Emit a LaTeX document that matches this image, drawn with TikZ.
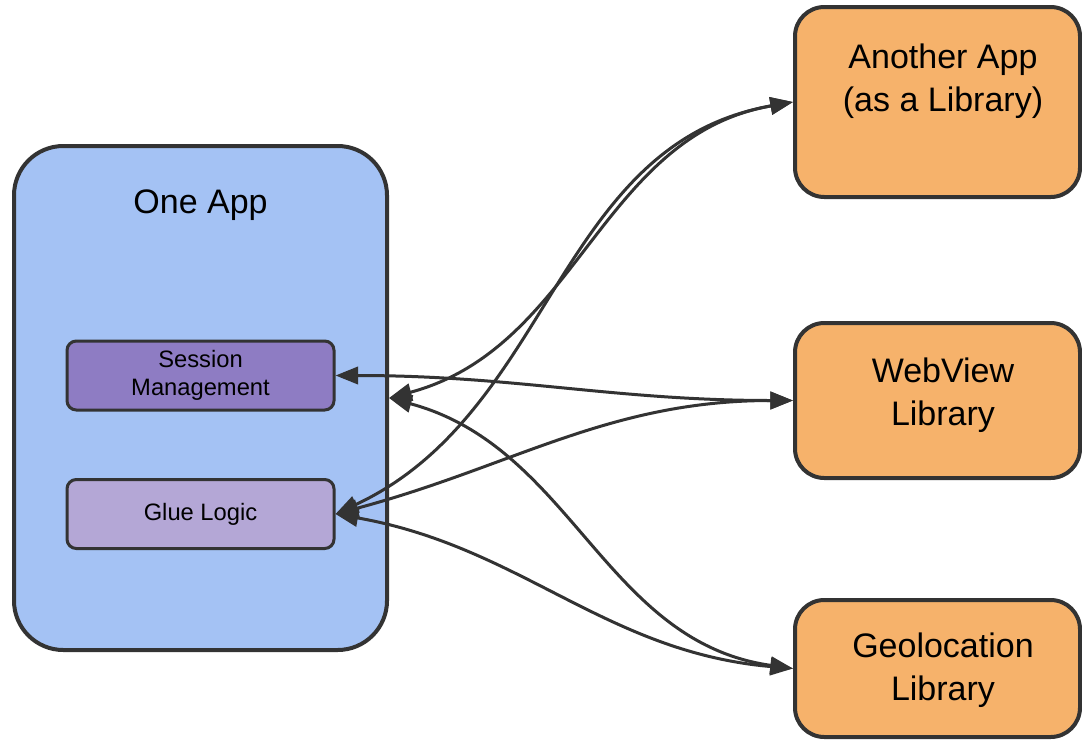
\documentclass[tikz,border=0pt]{standalone}
\usepackage{fontspec}
\setmainfont{Liberation Sans}
\usetikzlibrary{arrows.meta, positioning}
\definecolor{appblue}{HTML}{A4C2F4}
\definecolor{sessionpurple}{HTML}{8E7CC3}
\definecolor{gluepurple}{HTML}{B4A7D6}
\definecolor{liborange}{HTML}{F6B26B}
\definecolor{edgegray}{HTML}{333333}
\tikzstyle{appbox} = [
    rectangle,
    rounded corners=37pt,
    minimum width=279.75pt,
    minimum height=378pt,
    draw=edgegray,
    line width=3pt,
    fill=appblue
]
\tikzstyle{partbox} = [
    rectangle,
    rounded corners=7pt,
    minimum width=200.25pt,
    minimum height=51.75pt,
    text centered,
    align=center,
    draw=edgegray,
    line width=2.25pt,
    font=\fontsize{17.8}{21}\selectfont
]
\tikzstyle{libbox} = [
    rectangle,
    rounded corners=22pt,
    minimum width=213.75pt,
    draw=edgegray,
    line width=3pt,
    fill=liborange
]
\tikzstyle{bigtext} = [align=center, font=\fontsize{25.5}{32}\selectfont]
\tikzstyle{arrow} = [line width=2.25pt, draw=edgegray, <->, >={Triangle[length=17pt,width=13pt]}]

\begin{document}
\begin{tikzpicture}[x=0.75pt, y=-0.75pt]
\useasboundingbox (0,0) rectangle (1082,743);

% Nodes
\node (oneapp) [appbox] at (200.5,398) {};
\node (oneapptitle) [bigtext] at (200.5,205) {One App};
\node (session) [partbox, fill=sessionpurple] at (200.5,375.5) {Session\\Management};
\node (glue) [partbox, fill=gluepurple] at (200.5,514) {Glue Logic};
\node (another) [libbox, minimum height=142.5pt] at (937.5,102) {};
\node (anothertitle) [bigtext] at (943,81.5) {Another App\\(as a Library)};
\node (webview) [libbox, minimum height=116.25pt] at (937.5,400.5) {};
\node (webviewtitle) [bigtext] at (943,395.5) {WebView\\Library};
\node (geo) [libbox, minimum height=102.75pt] at (937.5,668.5) {};
\node (geotitle) [bigtext] at (943,670.5) {Geolocation\\Library};

% Arrows
\draw [arrow] (oneapp.east) to[out=15, in=190] (another.west);
\draw [arrow] (glue.east) to[out=25, in=190] (another.west);
\draw [arrow] (session.east) to[out=0, in=180] (webview.west);
\draw [arrow] (glue.east) to[out=15, in=180] (webview.west);
\draw [arrow] (oneapp.east) to[out=-15, in=172] (geo.west);
\draw [arrow] (glue.east) to[out=-10, in=175] (geo.west);

\end{tikzpicture}
\end{document}
